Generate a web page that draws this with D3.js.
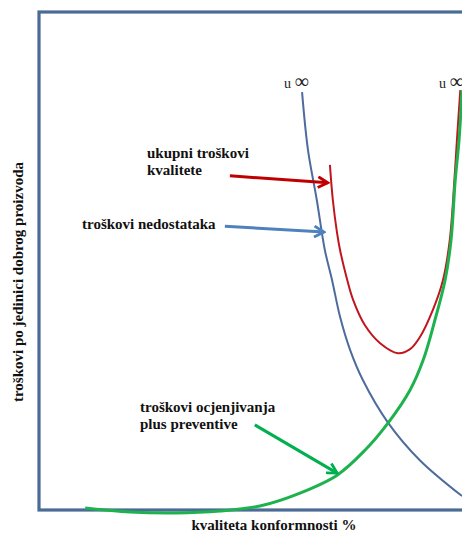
<!DOCTYPE html>
<html>
<head>
<meta charset="utf-8">
<script src="https://cdn.jsdelivr.net/npm/d3@7"></script>
<style>
  body { margin: 0; background: #fff; }
  text { font-family: "Liberation Serif", "Times New Roman", serif; }
  .lbl { font-weight: bold; font-size: 15px; fill: #111; }
</style>
</head>
<body>
<div id="chart"></div>
<script>
// Kurven in Datenkoordinaten (x = Kvaliteta 0..100, y = Trošak 0..100)
const nedostaciX = [62.1, 63.5, 65.6, 67.5, 69.2, 71.1, 73.5, 76.5, 82.5, 90.0, 100];
const nedostaciY = [83.9, 72.3, 62.2, 52.2, 46.2, 38.8, 32.1, 26.1, 17.5, 10.0, 2.8];

const ukupniX = [68.7, 69.4, 70.4, 71.1, 72.5, 74.2, 77.0, 80.6, 84.8, 87.7, 90.0, 93.1, 95.5, 97.1, 98.2, 98.8, 99.6];
const ukupniY = [69.3, 62.2, 55.6, 52.2, 47.2, 42.2, 37.1, 33.5, 31.5, 32.3, 34.7, 40.2, 46.2, 54.2, 66.3, 74.3, 84.3];

const ocjenaX = [10.7, 21.3, 32.0, 42.7, 52.1, 61.6, 70.4, 77.0, 82.5, 87.7, 90.8, 93.6, 96.0, 97.4, 98.4, 99.3, 100];
const ocjenaY = [0.4, -0.4, -0.6, -0.2, 0.8, 3.4, 7.0, 12.0, 17.5, 24.1, 30.1, 38.2, 46.2, 54.2, 66.3, 74.3, 84.3];

// Strelice: [x0, y0, x1, y1] u podatkovnim koordinatama
const strelicaUkupni = [45.0, 67.1, 68.2, 65.7];
const strelicaNedostaci = [43.8, 57.0, 67.3, 55.8];
const strelicaOcjena = [50.9, 17.1, 70.4, 7.4];

const width = 462, height = 533;
const margin = { left: 40, top: 12, right: 0, bottom: 23 };

const xScale = d3.scaleLinear().domain([0, 100]).range([margin.left, width - margin.right]);
const yScale = d3.scaleLinear().domain([0, 100]).range([height - margin.bottom, margin.top]);

const svg = d3.select("#chart")
  .append("svg")
  .attr("width", width)
  .attr("height", height);

// Pfeilspitzen
const defs = svg.append("defs");
[["red", "#c00000"], ["blue", "#4f81bd"], ["green", "#00b050"]].forEach(([id, c]) => {
  defs.append("marker")
    .attr("id", "arr-" + id)
    .attr("markerUnits", "userSpaceOnUse")
    .attr("viewBox", "0 0 12 12")
    .attr("refX", 10).attr("refY", 6)
    .attr("markerWidth", 13).attr("markerHeight", 13)
    .attr("orient", "auto")
    .append("path")
    .attr("d", "M1,1 L10,6 L1,11")
    .attr("fill", "none")
    .attr("stroke", c)
    .attr("stroke-width", 2.6)
    .attr("stroke-linejoin", "miter");
});

// Rahmen (Achsen)
svg.append("rect")
  .attr("x", xScale(0) - 1)
  .attr("y", yScale(100))
  .attr("width", 500)
  .attr("height", yScale(0) - yScale(100))
  .attr("fill", "none")
  .attr("stroke", "#4a6b96")
  .attr("stroke-width", 3.2);

const line = d3.line()
  .x(d => xScale(d[0]))
  .y(d => yScale(d[1]))
  .curve(d3.curveCatmullRom);

const curves = [
  { x: nedostaciX, y: nedostaciY, color: "#4d6b9c", w: 2 },
  { x: ukupniX, y: ukupniY, color: "#c0161e", w: 2 },
  { x: ocjenaX, y: ocjenaY, color: "#1eb24e", w: 3 }
];

svg.append("g")
  .selectAll("path")
  .data(curves)
  .join("path")
  .attr("d", c => line(c.x.map((v, i) => [v, c.y[i]])))
  .attr("fill", "none")
  .attr("stroke", c => c.color)
  .attr("stroke-width", c => c.w);

// Strelice
const arrows = [
  { a: strelicaUkupni, color: "#c00000", id: "red" },
  { a: strelicaNedostaci, color: "#4f81bd", id: "blue" },
  { a: strelicaOcjena, color: "#00b050", id: "green" }
];
svg.append("g")
  .selectAll("line")
  .data(arrows)
  .join("line")
  .attr("x1", d => xScale(d.a[0]))
  .attr("y1", d => yScale(d.a[1]))
  .attr("x2", d => xScale(d.a[2]))
  .attr("y2", d => yScale(d.a[3]))
  .attr("stroke", d => d.color)
  .attr("stroke-width", 3)
  .attr("marker-end", d => `url(#arr-${d.id})`);

// Beschriftungen
const addText = (x, y, t) => svg.append("text").attr("class", "lbl").attr("x", x).attr("y", y).text(t);
addText(147, 158, "ukupni troškovi");
addText(147, 175, "kvalitete");
addText(82, 229, "troškovi nedostataka");
addText(140, 412, "troškovi ocjenjivanja");
addText(140, 429, "plus preventive");

svg.append("text")
  .attr("class", "lbl")
  .attr("x", 274)
  .attr("y", 530)
  .attr("text-anchor", "middle")
  .text("kvaliteta konformnosti %");

svg.append("text")
  .attr("class", "lbl")
  .attr("transform", "translate(23,282) rotate(-90)")
  .attr("text-anchor", "middle")
  .text("troškovi po jedinici dobrog proizvoda");

// "u ∞" Markierungen
[[284, 88], [439, 88]].forEach(([x, y]) => {
  const t = svg.append("text").attr("x", x).attr("y", y).attr("fill", "#222").style("font-size", "14px");
  t.append("tspan").text("u ");
  t.append("tspan").style("font-size", "20px").text("∞");
});
</script>
</body>
</html>
